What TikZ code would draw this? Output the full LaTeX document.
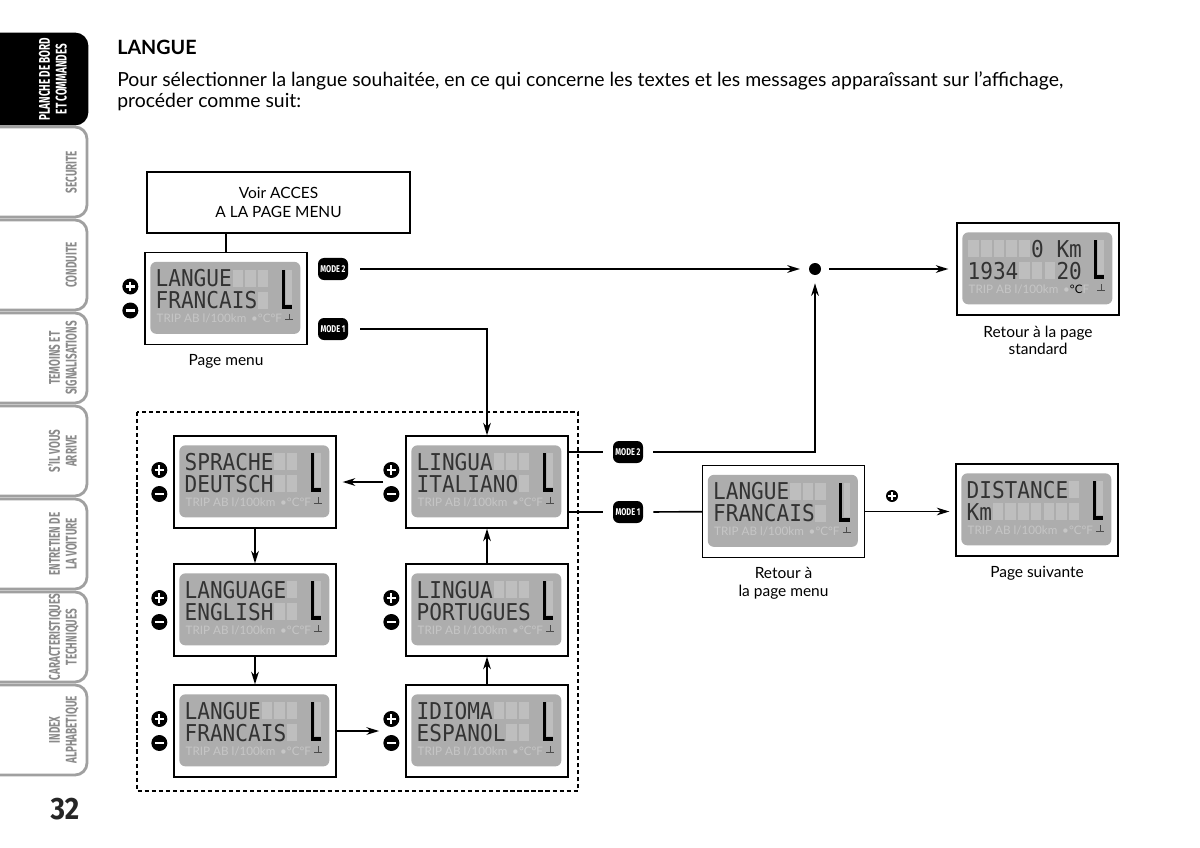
\documentclass[tikz,border=0pt]{standalone}
\usepackage{fontspec}
\setmainfont{Lato}
\newfontfamily\tabfont{Fira Sans}
\newfontfamily\lcdfont{DejaVu Sans Mono}
\usetikzlibrary{arrows.meta,calc,positioning}

\definecolor{lcdbg}{HTML}{ADADAD}
\definecolor{lcdghost}{HTML}{BEBEBE}
\definecolor{lcdfaint}{HTML}{C6C6C6}
\definecolor{tabgray}{HTML}{A0A0A0}
\definecolor{tabink}{HTML}{8A8A8A}

\tikzset{
  ln/.style={line width=1.2pt, draw=black},
  arr/.style={ln, -{Stealth[length=9pt,width=5.5pt]}},
  frame/.style={draw=black, line width=0.9pt, fill=white, inner sep=0pt},
  screen/.style={frame, minimum width=4.05cm, minimum height=2.3cm},
  lcd/.style={anchor=base west, inner sep=0pt, text=black!80, font=\lcdfont\fontsize{15}{15}\selectfont},
  trip/.style={anchor=west, inner sep=0pt, text=lcdfaint, font=\fontsize{8.3}{8.3}\selectfont},
  pm/.style={circle, fill=black, minimum size=0.4cm, inner sep=0pt},
  plus/.style={pm, path picture={\draw[white, line width=1.6pt]
      ($(path picture bounding box.west)!0.2!(path picture bounding box.east)$) -- ($(path picture bounding box.west)!0.8!(path picture bounding box.east)$)
      ($(path picture bounding box.south)!0.2!(path picture bounding box.north)$) -- ($(path picture bounding box.south)!0.8!(path picture bounding box.north)$);}},
  minus/.style={pm, path picture={\draw[white, line width=1.6pt]
      ($(path picture bounding box.west)!0.2!(path picture bounding box.east)$) -- ($(path picture bounding box.west)!0.8!(path picture bounding box.east)$);}},
  modekey/.style={fill=black, rounded corners=0.15cm, minimum width=0.75cm, minimum height=0.55cm, inner sep=0pt, text=white, font=\tabfont\bfseries\fontsize{7}{7}\selectfont},
  hub/.style={circle, fill=black, minimum size=0.3cm, inner sep=0pt},
  caption/.style={inner sep=0pt, align=center, font=\fontsize{11}{12.5}\selectfont},
  tab/.style={draw=tabgray, line width=2pt, fill=white, rounded corners=0.3cm},
  tabon/.style={tab, draw=black, fill=black},
  tabtext/.style={rotate=90, anchor=south, inner sep=0pt, font=\tabfont\bfseries\fontsize{11}{12}\selectfont},
  dashbox/.style={draw=black, line width=1.2pt, dash pattern=on 3pt off 2pt}
}

\newcommand{\tabscale}[1]{\scalebox{0.64}[1]{\begin{tabular}{@{}c@{}}#1\end{tabular}}}
\newcommand{\lcdline}[1]{\scalebox{1}[1.1]{#1}}
% [units], name, centre, line 1, line 2, first unlit cell of line 1, of line 2
\newcommand{\lcdscreen}[7][\textbullet°C°F]{%
  \node[screen] (#2) at (#3) {};
  \begin{scope}[shift={(#2.north west)}]
    \fill[lcdbg, rounded corners=0.15cm] (6,10) rectangle (156,82);
    \foreach \c in {0,...,8} {
      \ifnum\c<#6\relax\else\fill[lcdghost] ({12+12.7*\c},18) rectangle ++(10.5,17);\fi
      \ifnum\c<#7\relax\else\fill[lcdghost] ({12+12.7*\c},40) rectangle ++(10.5,17);\fi
    }
    \node[lcd] (#2-a) at (11,35) {\lcdline{#4}};
    \node[lcd] (#2-b) at (11,57) {\lcdline{#5}};
    \node[trip] (#2-t) at (12,67) {TRIP AB l/100km\hspace{0.12cm}#1};
    \fill[lcdghost] (142,18) rectangle (148,52);
    \draw[line width=2.2pt] (139,18) -- (139,57);
    \fill (139,53) rectangle (148,57);
    \draw[line width=0.6pt, black!70] (141,68) -- (149,68) (145,62) -- (145,68);
  \end{scope}
}
\newcommand{\pmpair}[1]{%
  \node[plus] (#1-p) at ($(#1.west)+(-14,-12)$) {};
  \node[minus] (#1-m) at ($(#1.west)+(-14,12)$) {};
}

\begin{document}
\begin{tikzpicture}[x=0.025cm, y=-0.025cm]
  \useasboundingbox[fill=white] (0,0) rectangle (1200,847);

  % side tabs
  \foreach \txt [count=\i] in {{PLANCHE DE BORD\\ET COMMANDES},{SECURITE},{CONDUITE},{TEMOINS ET\\SIGNALISATIONS},{S’IL VOUS\\ARRIVE},{ENTRETIEN DE\\LA VOITURE},{CARACTERISTIQUES\\TECHNIQUES},{INDEX\\ALPHABETIQUE}} {
    \pgfmathsetmacro\tabtop{34+93*(\i-1)}
    \ifnum\i=1 \def\tabst{tabon}\def\tabtx{white}\def\tabx{72}\else\def\tabst{tab}\def\tabtx{tabink}\def\tabx{82}\fi
    \draw[\tabst] (-10,\tabtop) -- (87,\tabtop) -- (87,\tabtop+90) -- (-10,\tabtop+90);
    \node[tabtext, text=\tabtx] (tab\i) at (\tabx,\tabtop+45) {\tabscale{\txt}};
  }
  \node[font=\tabfont\bfseries\fontsize{22}{22}\selectfont, text=black!85, inner sep=0pt] (pagenum) at (65,809) {\scalebox{0.9}[1]{32}};

  % heading
  \node[anchor=base west, inner sep=0pt, font=\bfseries\fontsize{14}{14}\selectfont] (title) at (117,55) {LANGUE};
  \node[anchor=base west, inner sep=0pt, align=left, font=\fontsize{13.8}{15.2}\selectfont] (intro) at (117,108)
    {Pour sélectionner la langue souhaitée, en ce qui concerne les textes et les messages apparaîssant sur l’affichage,\\procéder comme suit:};

  % menu page
  \node[frame, minimum width=6.575cm, minimum height=1.525cm, align=center, font=\fontsize{11}{13.5}\selectfont] (voir) at (278.5,202.5) {Voir ACCES\\A LA PAGE MENU};
  \lcdscreen{menu}{226,298.5}{LANGUE}{FRANCAIS}{6}{8}
  \pmpair{menu}
  \node[caption, below=0.22cm of menu] (menu-cap) {Page menu};
  \draw[ln] (menu.north) -- (menu.north |- voir.south);

  % standard page
  \lcdscreen[\textbullet\textcolor{black}{°C}F]{std}{1038,269}{\phantom{00000}0\phantom{0}Km}{1934\phantom{000}20}{9}{9}
  \begin{scope}[shift={(std.north west)}]
    \foreach \c in {0,...,4} \fill[lcdghost] ({12+12.7*\c},18) rectangle ++(10.5,17);
    \foreach \c in {4,...,6} \fill[lcdghost] ({12+12.7*\c},40) rectangle ++(10.5,17);
  \end{scope}
  \node[caption, below=0.25cm of std] (std-cap) {Retour à la page\\standard};

  % language loop
  \lcdscreen{italiano}{487,482}{LINGUA}{ITALIANO}{6}{8}
  \lcdscreen{sprache}{255,482}{SPRACHE}{DEUTSCH}{7}{7}
  \lcdscreen{english}{255,610}{LANGUAGE}{ENGLISH}{8}{7}
  \lcdscreen{portugues}{487,610}{LINGUA}{PORTUGUES}{6}{9}
  \lcdscreen{francais}{255,731}{LANGUE}{FRANCAIS}{6}{8}
  \lcdscreen{espanol}{487,731}{IDIOMA}{ESPANOL}{6}{7}
  \foreach \s in {italiano,sprache,english,portugues,francais,espanol} {\pmpair{\s}}
  \draw[dashbox] (137,412) rectangle (578,791);

  % confirm and next page
  \lcdscreen{back}{783.5,511.5}{LANGUE}{FRANCAIS}{6}{8}
  \node[caption, below=0.22cm of back] (back-cap) {Retour à\\la page menu};
  \lcdscreen{next}{1037,510}{DISTANCE}{Km}{8}{2}
  \node[caption, below=0.22cm of next] (next-cap) {Page suivante};

  % keys
  \node[modekey] (m2a) at (333,269) {\scalebox{0.75}[1]{MODE 2}};
  \node[modekey] (m1a) at (333,329) {\scalebox{0.75}[1]{MODE 1}};
  \node[modekey] (m2b) at (628,452) {\scalebox{0.75}[1]{MODE 2}};
  \node[modekey] (m1b) at (628,512) {\scalebox{0.75}[1]{MODE 1}};
  \node[hub] (hub) at (815,269) {};
  \node[plus, minimum size=0.3cm] (adv) at (892,496) {};

  % connectors
  \draw[arr, shorten <=0.3cm, shorten >=0.22cm] (m2a) -- (hub);
  \draw[arr, shorten <=0.2cm, shorten >=0.2cm] (hub) -- (std);
  \draw[arr, shorten <=0.3cm] (m1a) -| (italiano);
  \draw[arr, shorten >=0.15cm] (italiano-p.west |- italiano) -- (sprache);
  \draw[arr] (sprache) -- (english);
  \draw[arr] (english) -- (francais);
  \draw[arr, shorten >=0.1cm] (francais) -- (espanol-p.west |- francais);
  \draw[arr] (espanol) -- (portugues);
  \draw[arr] (portugues) -- (italiano);
  \draw[ln, shorten >=0.25cm] (italiano.east |- m2b) -- (m2b);
  \draw[arr, shorten <=0.25cm, shorten >=0.2cm] (m2b) -| (hub);
  \draw[ln, shorten >=0.25cm] (italiano.east |- m1b) -- (m1b);
  \draw[ln, shorten <=0.25cm] (m1b) -- (back);
  \draw[arr, shorten >=0.15cm] (back) -- (back -| next.west);
\end{tikzpicture}
\end{document}
